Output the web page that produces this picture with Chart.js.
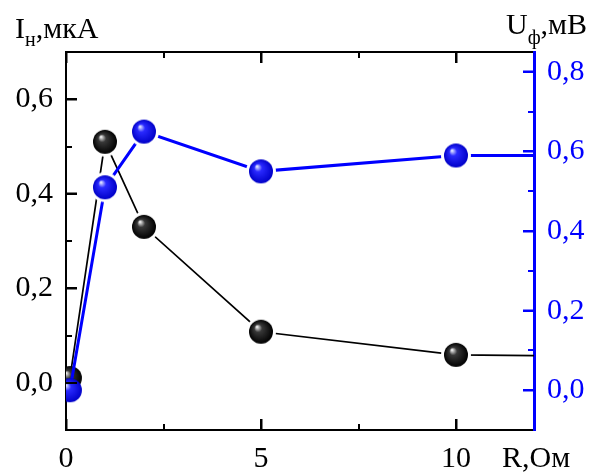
<!DOCTYPE html>
<html>
<head>
<meta charset="utf-8">
<script src="https://cdn.jsdelivr.net/npm/chart.js@4"></script>
<style>
  html, body { margin: 0; padding: 0; background: #fff; }
</style>
</head>
<body>
<canvas id="chart" width="594" height="473"></canvas>
<script>
// R, Ом
const rValues = [0.1, 1, 2, 5, 10, 15];
// I_н, мкА (left axis)
const currentValues = [0.01, 0.51, 0.33, 0.108, 0.059, 0.055];
// U_ф, мВ (right axis)
const voltageValues = [0.0, 0.51, 0.65, 0.55, 0.59, 0.59];

const xTicks = [0, 5, 10];
const xMinor = [2.5, 7.5];
const leftTicks = [0, 0.2, 0.4, 0.6];
const leftMinor = [0.1, 0.3, 0.5];
const rightTicks = [0, 0.2, 0.4, 0.6, 0.8];
const rightMinor = [0.1, 0.3, 0.5, 0.7];

const FONT = "'Liberation Serif', 'Times New Roman', serif";
const BLUE = '#0000ff';

// shaded ball used as point marker, optional white ring gives the line gap
function makeBall(light, mid, dark, ring) {
  const r = 12;
  const pad = ring ? 3 : 0;
  const size = 2 * (r + pad) + 2;
  const cv = document.createElement('canvas');
  cv.width = cv.height = size;
  const g = cv.getContext('2d');
  const c = size / 2;
  if (ring) {
    g.fillStyle = '#fff';
    g.beginPath();
    g.arc(c, c, r + pad, 0, Math.PI * 2);
    g.fill();
  }
  const grad = g.createRadialGradient(c - 4, c - 5, 0.5, c, c, r);
  grad.addColorStop(0, light);
  grad.addColorStop(0.3, mid);
  grad.addColorStop(1, dark);
  g.fillStyle = grad;
  g.beginPath();
  g.arc(c, c, r, 0, Math.PI * 2);
  g.fill();
  return cv;
}

const blackBall = makeBall('#eeeeee', '#383838', '#000000', true);
const blackBallPlain = makeBall('#eeeeee', '#383838', '#000000', false);
const blueBall = makeBall('#e0e4ff', '#2a2aff', '#0000c8', true);
const blueBallPlain = makeBall('#e0e4ff', '#2a2aff', '#0000c8', false);

function fmt(v) {
  return v.toFixed(1).replace('.', ',');
}

function setTicks(list) {
  return function (scale) {
    scale.ticks = list.map(v => ({ value: v }));
  };
}

// inward tick marks (major 11px, minor 6px) on all four sides
const tickMarks = {
  id: 'tickMarks',
  afterDraw(chart) {
    const ctx = chart.ctx;
    const a = chart.chartArea;
    const x = chart.scales.x, y = chart.scales.y, y1 = chart.scales.y1;
    ctx.save();
    ctx.lineWidth = 2;
    ctx.strokeStyle = '#000';
    ctx.beginPath();
    function xt(v, len) {
      const px = Math.round(x.getPixelForValue(v));
      ctx.moveTo(px, a.bottom); ctx.lineTo(px, a.bottom - len);
      ctx.moveTo(px, a.top); ctx.lineTo(px, a.top + len);
    }
    xTicks.forEach(v => xt(v, 11));
    xMinor.forEach(v => xt(v, 6));
    leftTicks.forEach(v => {
      const py = Math.round(y.getPixelForValue(v));
      ctx.moveTo(a.left, py); ctx.lineTo(a.left + 11, py);
    });
    leftMinor.forEach(v => {
      const py = Math.round(y.getPixelForValue(v));
      ctx.moveTo(a.left, py); ctx.lineTo(a.left + 6, py);
    });
    ctx.stroke();
    ctx.strokeStyle = BLUE;
    ctx.beginPath();
    rightTicks.forEach(v => {
      const py = Math.round(y1.getPixelForValue(v));
      ctx.moveTo(a.right, py); ctx.lineTo(a.right - 11, py);
    });
    rightMinor.forEach(v => {
      const py = Math.round(y1.getPixelForValue(v));
      ctx.moveTo(a.right, py); ctx.lineTo(a.right - 6, py);
    });
    ctx.stroke();
    ctx.restore();
  }
};

const axisTitles = {
  id: 'axisTitles',
  afterDraw(chart) {
    const ctx = chart.ctx;
    ctx.save();
    ctx.fillStyle = '#000';
    ctx.textBaseline = 'alphabetic';
    function piece(text, size, x, base) {
      ctx.font = size + 'px ' + FONT;
      ctx.fillText(text, x, base);
      return x + ctx.measureText(text).width;
    }
    let x = piece('I', 30, 15, 38);
    x = piece('н', 20, x, 46);
    piece(',мкА', 30, x, 38);

    x = piece('U', 30, 506, 34);
    x = piece('ф', 20, x, 44);
    piece(',мВ', 30, x, 34);

    piece('R,Ом', 30, 502, 467);
    ctx.restore();
  }
};

new Chart(document.getElementById('chart'), {
  type: 'line',
  data: {
    datasets: [
      {
        label: 'U',
        data: rValues.map((r, i) => ({ x: r, y: voltageValues[i] })),
        yAxisID: 'y1',
        borderColor: BLUE,
        borderWidth: 3,
        pointRadius: 12,
        pointStyle: ctx => ctx.dataIndex === 0 ? blueBallPlain : blueBall,
        tension: 0
      },
      {
        label: 'I',
        data: rValues.map((r, i) => ({ x: r, y: currentValues[i] })),
        yAxisID: 'y',
        borderColor: '#000',
        borderWidth: 1.7,
        pointRadius: 12,
        pointStyle: ctx => ctx.dataIndex === 0 ? blackBallPlain : blackBall,
        tension: 0
      }
    ]
  },
  options: {
    responsive: false,
    animation: false,
    layout: { padding: 0, autoPadding: false },
    plugins: {
      legend: { display: false },
      tooltip: { enabled: false }
    },
    scales: {
      x: {
        type: 'linear',
        position: 'bottom',
        min: 0,
        max: 12,
        afterBuildTicks: setTicks(xTicks),
        afterFit: s => { s.height = 43; },
        border: { color: '#000', width: 2 },
        grid: { drawOnChartArea: false, tickLength: -11, tickWidth: 2, tickColor: '#000' },
        ticks: {
          padding: 22,
          color: '#000',
          font: { family: FONT, size: 30 },
          callback: v => String(v)
        }
      },
      xTop: {
        type: 'linear',
        position: 'top',
        min: 0,
        max: 12,
        afterBuildTicks: setTicks(xTicks),
        afterFit: s => { s.height = 52; },
        border: { color: '#000', width: 2 },
        grid: { drawOnChartArea: false, tickLength: -11, tickWidth: 2, tickColor: '#000' },
        ticks: { display: false }
      },
      y: {
        type: 'linear',
        position: 'left',
        min: -0.1,
        max: 0.7,
        afterBuildTicks: setTicks(leftTicks),
        afterFit: s => { s.width = 66; },
        border: { color: '#000', width: 2 },
        grid: { drawOnChartArea: false, tickLength: -11, tickWidth: 2, tickColor: '#000' },
        ticks: {
          padding: 24,
          color: '#000',
          font: { family: FONT, size: 30 },
          callback: v => fmt(v)
        }
      },
      y1: {
        type: 'linear',
        position: 'right',
        min: -0.1,
        max: 0.85,
        afterBuildTicks: setTicks(rightTicks),
        afterFit: s => { s.width = 60; },
        border: { color: BLUE, width: 3 },
        grid: { drawOnChartArea: false, tickLength: -11, tickWidth: 2, tickColor: BLUE },
        ticks: {
          padding: 24,
          color: BLUE,
          font: { family: FONT, size: 30 },
          callback: v => fmt(v)
        }
      }
    }
  },
  plugins: [tickMarks, axisTitles]
});
</script>
</body>
</html>
